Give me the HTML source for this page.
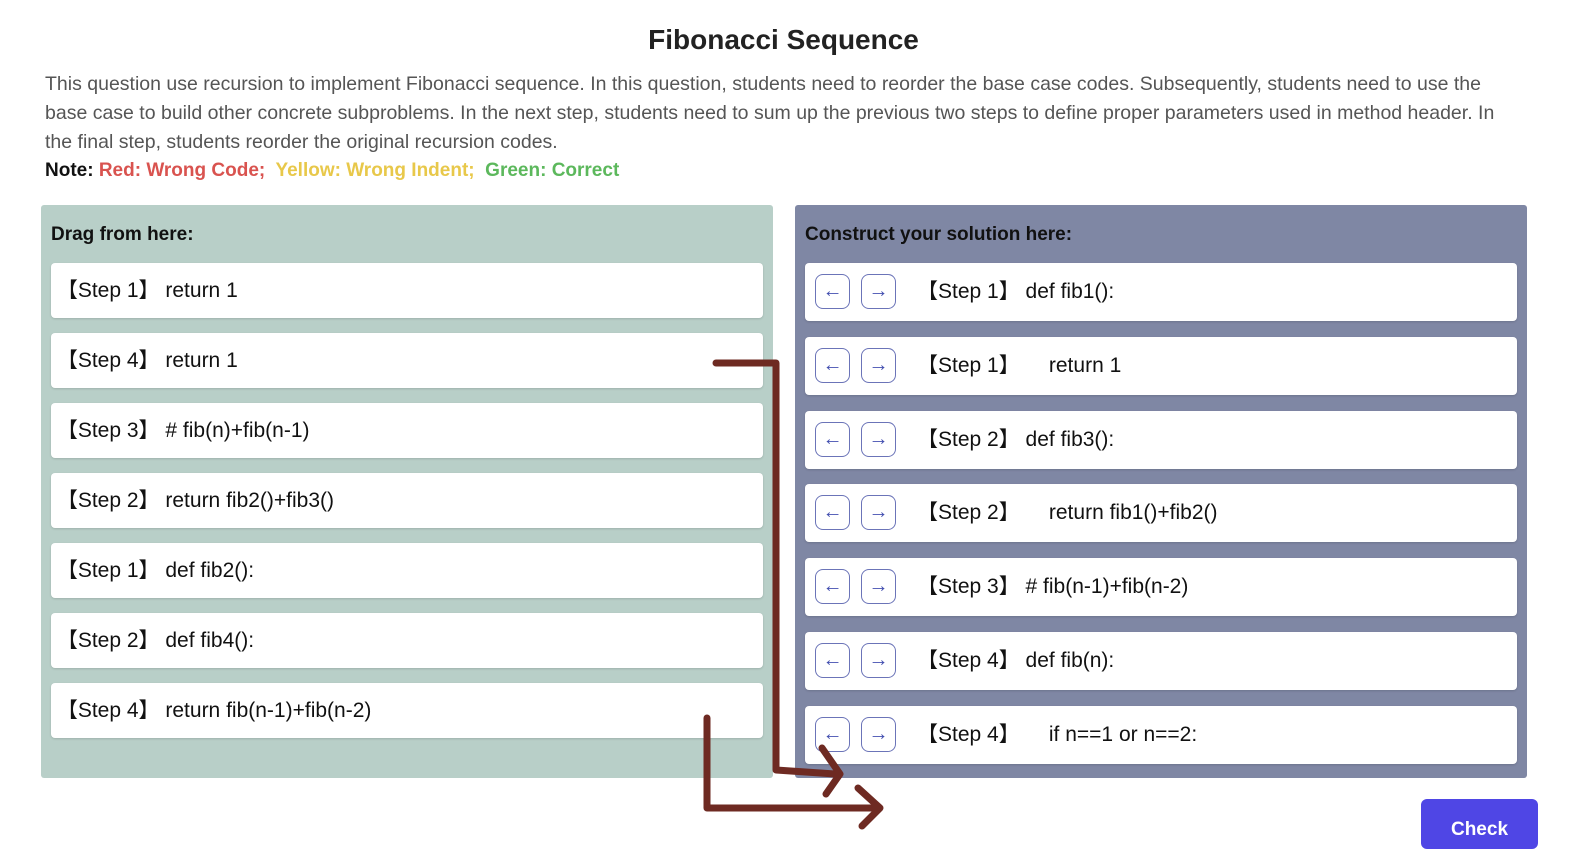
<!DOCTYPE html>
<html><head><meta charset="utf-8"><style>
body{margin:0;width:1587px;height:837px;overflow:hidden;background:#fff;font-family:"Liberation Sans","Noto Sans CJK SC",sans-serif;position:relative}
.abs{position:absolute}
h1{position:absolute;top:24px;left:0;width:1567px;text-align:center;margin:0;font-size:28px;color:#222;font-weight:bold}
.desc{left:45px;top:70px;width:1480px;font-size:19.5px;line-height:29px;color:#555}
.note{left:45px;top:160px;font-size:19px;font-weight:bold}
.panel{top:205px;width:732px;height:573px;border-radius:3px}
.ph{font-size:19px;font-weight:bold;color:#111;position:absolute;left:10px;top:19px}
.item{position:absolute;left:10px;width:712px;background:#fff;border-radius:4px;font-size:21px;color:#111;box-shadow:0 1px 2px rgba(0,0,0,.15)}
.li{height:55px;line-height:55px}
.ri{height:58px;line-height:58px}
.btn{position:absolute;top:11px;width:35px;height:35px;border:1.5px solid #6b74b8;border-radius:8px;color:#4450b0;font-size:20px;line-height:32px;text-align:center;box-sizing:border-box;background:#fff;font-weight:bold}
.chk{left:1421px;top:799px;width:117px;height:50px;background:#4f46e5;border-radius:6px;color:#fff;font-size:19px;text-align:center;line-height:62px;font-weight:bold}
</style></head><body>
<h1>Fibonacci Sequence</h1>
<div class="abs desc">This question use recursion to implement Fibonacci sequence. In this question, students need to reorder the base case codes. Subsequently, students need to use the base case to build other concrete subproblems. In the next step, students need to sum up the previous two steps to define proper parameters used in method header. In the final step, students reorder the original recursion codes.</div>
<div class="abs note"><span style="color:#111">Note: </span><span style="color:#d9534f">Red: Wrong Code;</span>&nbsp; <span style="color:#e8c84a">Yellow: Wrong Indent;</span>&nbsp; <span style="color:#5cb85c">Green: Correct</span></div>

<div class="abs panel" style="left:41px;background:#b8cfc8">
<div class="ph">Drag from here:</div>
<div class="item li" style="top:58px">&nbsp;【Step 1】 return 1</div>
<div class="item li" style="top:128px">&nbsp;【Step 4】 return 1</div>
<div class="item li" style="top:198px">&nbsp;【Step 3】 # fib(n)+fib(n-1)</div>
<div class="item li" style="top:268px">&nbsp;【Step 2】 return fib2()+fib3()</div>
<div class="item li" style="top:338px">&nbsp;【Step 1】 def fib2():</div>
<div class="item li" style="top:408px">&nbsp;【Step 2】 def fib4():</div>
<div class="item li" style="top:478px">&nbsp;【Step 4】 return fib(n-1)+fib(n-2)</div>
</div>

<div class="abs panel" style="left:795px;background:#7f87a4">
<div class="ph">Construct your solution here:</div>
<div id="sol"></div>
</div>

<div class="abs chk">Check</div>

<svg class="abs" style="left:0;top:0" width="1587" height="837">
<g fill="none" stroke="#6e2a22" stroke-width="7" stroke-linecap="round" stroke-linejoin="round">
<path d="M716 363 H776 V770 L835 774"/>
<path d="M822 748 L840 774 L826 794"/>
<path d="M707 718 V808 H878"/>
<path d="M858 788 L880 808 L862 826"/>
</g></svg>

<script>
const steps=['Step 1','Step 1','Step 2','Step 2','Step 3','Step 4','Step 4'];
const codes=['def fib1():','&nbsp;&nbsp;&nbsp;&nbsp;return 1','def fib3():','&nbsp;&nbsp;&nbsp;&nbsp;return fib1()+fib2()','# fib(n-1)+fib(n-2)','def fib(n):','&nbsp;&nbsp;&nbsp;&nbsp;if n==1 or n==2:'];
const sol=document.getElementById('sol');
steps.forEach((s,i)=>{
 const d=document.createElement('div');
 d.className='item ri';d.style.top=(58+i*73.8)+'px';
 
 
 d.innerHTML='<div class="btn" style="left:10px">←</div><div class="btn" style="left:56px">→</div><span style="position:absolute;left:112px">【'+s+'】 '+codes[i]+'</span>';
 sol.appendChild(d);
});
</script>
</body></html>
